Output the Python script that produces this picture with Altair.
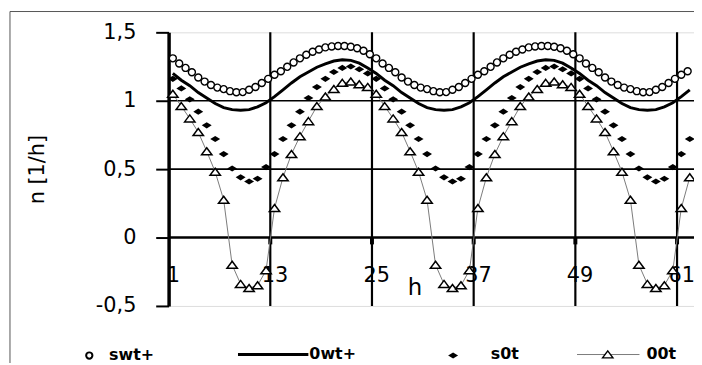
import altair as alt
import pandas as pd

# ---------------- data ----------------
hours = list(range(1, 63))

# swt+ is sampled every 0.75 h (82 samples from h = 1 to h = 61.75)
swt_hours = [1 + 0.75 * k for k in range(82)]
swt_plus = [1.31, 1.272, 1.24, 1.208, 1.17, 1.14, 1.115, 1.096, 1.085, 1.07, 1.062, 1.063,
            1.08, 1.10, 1.13, 1.16, 1.19, 1.216, 1.248, 1.28, 1.31, 1.336, 1.358, 1.375,
            1.39, 1.397, 1.40, 1.40, 1.395, 1.384, 1.365, 1.34,
            1.31, 1.272, 1.24, 1.208, 1.17, 1.14, 1.115, 1.096, 1.085, 1.07, 1.062, 1.063,
            1.08, 1.10, 1.13, 1.16, 1.19, 1.216, 1.248, 1.28, 1.31, 1.336, 1.358, 1.375,
            1.39, 1.397, 1.40, 1.40, 1.395, 1.384, 1.365, 1.34,
            1.31, 1.272, 1.24, 1.208, 1.17, 1.14, 1.115, 1.096, 1.085, 1.07, 1.062, 1.063,
            1.08, 1.10, 1.13, 1.16, 1.19, 1.216]

owt_plus = [1.20, 1.15, 1.11, 1.06, 1.02, 0.98, 0.95, 0.935, 0.93, 0.935, 0.955, 0.985,
            1.03, 1.08, 1.13, 1.175, 1.21, 1.245, 1.27, 1.29, 1.30, 1.295, 1.275, 1.24,
            1.20, 1.15, 1.11, 1.06, 1.02, 0.98, 0.95, 0.935, 0.93, 0.935, 0.955, 0.985,
            1.03, 1.08, 1.13, 1.175, 1.21, 1.245, 1.27, 1.29, 1.30, 1.295, 1.275, 1.24,
            1.20, 1.15, 1.11, 1.06, 1.02, 0.98, 0.95, 0.935, 0.93, 0.935, 0.955, 0.985,
            1.03, 1.08]

s0t = [1.16, 1.09, 1.01, 0.92, 0.82, 0.72, 0.61, 0.505, 0.44, 0.41, 0.43, 0.515,
       0.61, 0.72, 0.82, 0.92, 1.02, 1.10, 1.16, 1.21, 1.24, 1.25, 1.23, 1.20,
       1.16, 1.09, 1.01, 0.92, 0.82, 0.72, 0.61, 0.505, 0.44, 0.41, 0.43, 0.515,
       0.61, 0.72, 0.82, 0.92, 1.02, 1.10, 1.16, 1.21, 1.24, 1.25, 1.23, 1.20,
       1.16, 1.09, 1.01, 0.92, 0.82, 0.72, 0.61, 0.505, 0.44, 0.41, 0.43, 0.515,
       0.61, 0.72]

o0t = [1.05, 0.96, 0.87, 0.77, 0.63, 0.48, 0.275, -0.2, -0.34, -0.37, -0.35, -0.24,
       0.215, 0.44, 0.61, 0.74, 0.85, 0.96, 1.03, 1.085, 1.13, 1.14, 1.12, 1.10,
       1.05, 0.96, 0.87, 0.77, 0.63, 0.48, 0.275, -0.2, -0.34, -0.37, -0.35, -0.24,
       0.215, 0.44, 0.61, 0.74, 0.85, 0.96, 1.03, 1.085, 1.13, 1.14, 1.12, 1.10,
       1.05, 0.96, 0.87, 0.77, 0.63, 0.48, 0.275, -0.2, -0.34, -0.37, -0.35, -0.24,
       0.215, 0.44]

series_names = ["swt+", "0wt+", "s0t", "00t"]
x_tick_labels = [1, 13, 25, 37, 49, 61]
y_tick_values = [-0.5, 0, 0.5, 1, 1.5]
x_boundaries = [12.5, 24.5, 36.5, 48.5, 60.5]
y_gridlines = [0.5, 1]

# ---------------- build ----------------
df = pd.DataFrame({"h": hours, "0wt+": owt_plus, "s0t": s0t, "00t": o0t})
df_swt = pd.DataFrame({"h": swt_hours, "swt+": swt_plus})

W, H = 530, 276
FONT = "DejaVu Sans"

xs = alt.Scale(domain=[0.5, 62.5], nice=False, zero=False)
ys = alt.Scale(domain=[-0.5, 1.5], nice=False, zero=False)

x_axis = alt.Axis(values=x_tick_labels, ticks=False, domain=False, grid=False,
                  labelFont=FONT, labelFontSize=21, labelColor="black",
                  labelBaseline="alphabetic", labelPadding=-25, labelAlign="center",
                  labelFlush=False, labelOverlap=False,
                  title="h", titleFont=FONT, titleFontSize=23, titleFontWeight="normal",
                  titleColor="black", titleX=248, titleY=-12,
                  titleBaseline="alphabetic", titleAlign="center")

y_axis = alt.Axis(values=y_tick_values, grid=False,
                  labelExpr="(datum.value < 0 ? '-' : '') + replace(format(abs(datum.value), '.1~f'), '.', ',')",
                  labelFont=FONT, labelFontSize=21, labelColor="black", labelPadding=20,
                  tickSize=13, tickWidth=2, tickColor="black",
                  domainColor="black", domainWidth=3.5,
                  title="n [1/h]", titleFont=FONT, titleFontSize=21, titleFontWeight="normal",
                  titleColor="black", titleX=-126, titleY=H / 2, titleAngle=-90,
                  titleBaseline="alphabetic", titleAlign="center")


def X(field):
    return alt.X(field, scale=xs, axis=x_axis)


def Y(field):
    return alt.Y(field, scale=ys, axis=y_axis)


base = alt.Chart(df)

hgrid = alt.Chart(pd.DataFrame({"y": y_gridlines})).mark_rule(
    color="black", strokeWidth=1.6).encode(y=Y("y:Q"))
zero_line = alt.Chart(pd.DataFrame({"y": [0]})).mark_rule(
    color="black", strokeWidth=2.6).encode(y=Y("y:Q"))
vgrid = alt.Chart(pd.DataFrame({"x": x_boundaries})).mark_rule(
    color="black", strokeWidth=2.2).encode(x=X("x:Q"))
zero_ticks = alt.Chart(pd.DataFrame({"x": x_boundaries, "y0": [0] * 5, "y1": [-0.05] * 5})).mark_rule(
    color="black", strokeWidth=4).encode(x=X("x:Q"), y=Y("y0:Q"), y2="y1:Q")

circles = alt.Chart(df_swt).mark_point(shape="circle", size=50, filled=True, fill="white",
                                      stroke="black", strokeWidth=1.4, opacity=1).encode(
    x=X("h:Q"), y=Y("swt+:Q"))

solid = base.mark_line(color="black", strokeWidth=3).encode(
    x=X("h:Q"), y=Y("0wt+:Q"))

diamond_path = "M-1,0L0,-0.62L1,0L0,0.62Z"
diamonds = base.mark_point(shape=diamond_path, size=100, filled=True, color="black",
                           opacity=1).encode(x=X("h:Q"), y=Y("s0t:Q"))

tri_line = base.mark_line(color="#7a7a7a", strokeWidth=1).encode(
    x=X("h:Q"), y=Y("00t:Q"))

tri_path = "M0,-0.7L1,0.65L-1,0.65Z"
triangles = base.mark_point(shape=tri_path, size=110, filled=True, fill="white",
                            stroke="black", strokeWidth=1.5, opacity=1).encode(
    x=X("h:Q"), y=Y("00t:Q"))

# ---------------- legend (drawn below the plot) ----------------
LY = 325   # symbol centre, px from plot top
LT = 330   # text baseline
one = lambda name: alt.Chart(pd.DataFrame({"label": [name]}))
txt = dict(align="left", baseline="alphabetic", font=FONT, fontSize=16,
           fontWeight="bold", color="black")

leg_layers = [
    one(series_names[0]).mark_point(shape="circle", size=40, filled=False, color="black",
                                    strokeWidth=2, opacity=1).encode(
        x=alt.value(-80), y=alt.value(LY + 1)),
    one(series_names[0]).mark_text(**txt).encode(x=alt.value(-60), y=alt.value(LT + 1), text="label:N"),
    one(series_names[1]).mark_rule(color="black", strokeWidth=3).encode(
        x=alt.value(70), x2=alt.value(141), y=alt.value(LY)),
    one(series_names[1]).mark_text(**txt).encode(x=alt.value(142), y=alt.value(LT), text="label:N"),
    one(series_names[2]).mark_point(shape=diamond_path, size=100, filled=True, color="black",
                                    opacity=1).encode(x=alt.value(287), y=alt.value(LY + 1)),
    one(series_names[2]).mark_text(**txt).encode(x=alt.value(325), y=alt.value(LT), text="label:N"),
    one(series_names[3]).mark_rule(color="#7a7a7a", strokeWidth=1).encode(
        x=alt.value(412), x2=alt.value(475), y=alt.value(LY)),
    one(series_names[3]).mark_point(shape=tri_path, size=110, filled=True, fill="white",
                                    stroke="black", strokeWidth=1.4, opacity=1).encode(
        x=alt.value(443), y=alt.value(LY)),
    one(series_names[3]).mark_text(**txt).encode(x=alt.value(482), y=alt.value(LT), text="label:N"),
]

# chart-area frame
frame = [
    one("f").mark_rule(color="#555555", strokeWidth=1).encode(
        x=alt.value(-160), x2=alt.value(540), y=alt.value(-21)),
    one("f").mark_rule(color="#555555", strokeWidth=1).encode(
        x=alt.value(-160), y=alt.value(-21), y2=alt.value(345)),
]

chart = alt.layer(
    hgrid, zero_line, vgrid, zero_ticks,
    circles, solid, diamonds, tri_line, triangles,
    *leg_layers, *frame
).properties(
    width=W, height=H,
    autosize=alt.AutoSizeParams(type="none"),
    padding={"left": 162, "top": 23, "right": 0, "bottom": 56},
).configure_view(
    stroke="#8a8a8a", strokeWidth=2
).configure(background="white")

chart.save("out.html", embed_options={"renderer": "svg", "actions": False})
